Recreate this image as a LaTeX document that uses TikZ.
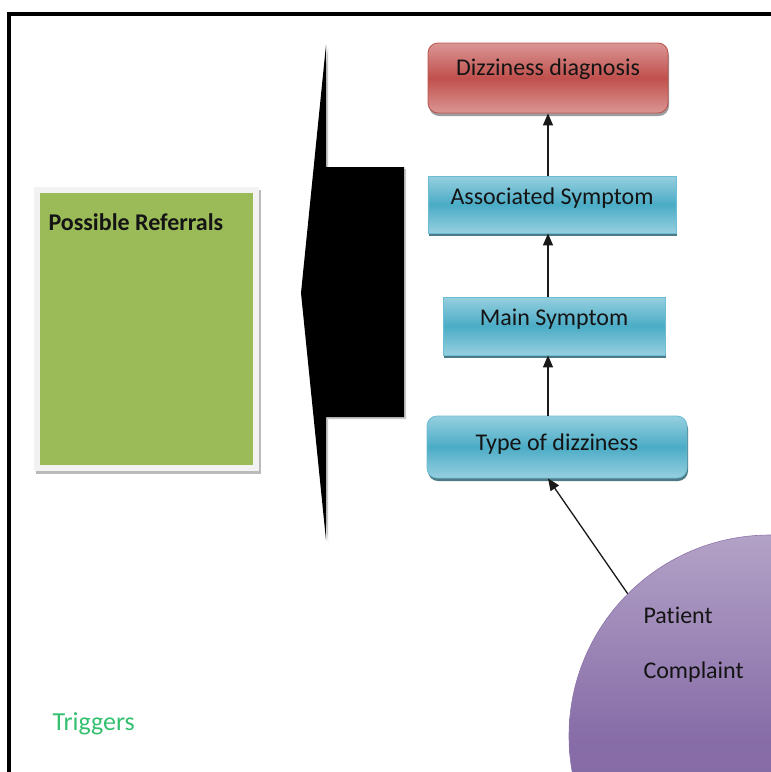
\documentclass[tikz,border=0pt]{standalone}
\usepackage{fontspec}
\setmainfont[Ligatures=NoCommon]{Carlito}
\usetikzlibrary{arrows.meta,shadows}

\definecolor{redmid}{HTML}{C0504D}
\definecolor{redlight}{HTML}{DA9694}
\definecolor{redline}{HTML}{B9534F}
\definecolor{bluemid}{HTML}{4BACC6}
\definecolor{bluelight}{HTML}{96CFDF}
\definecolor{blueline}{HTML}{6CBDD3}
\definecolor{blueshade}{HTML}{215968}
\definecolor{purplelight}{HTML}{B3A2C7}
\definecolor{purpledark}{HTML}{8064A2}
\definecolor{refgreen}{HTML}{9BBB59}
\definecolor{refframe}{HTML}{F2F2F2}
\definecolor{triggergreen}{RGB}{52,192,110}
\definecolor{ink}{HTML}{141414}

\tikzset{
  bigtext/.style={font=\fontsize{24}{28}\selectfont, text=ink},
  stepbase/.style={bigtext, inner xsep=0pt, inner ysep=0pt, line width=0.8pt},
  redbox/.style={stepbase, draw=redline, rounded corners=10pt,
    top color=redlight, bottom color=redlight, middle color=redmid,
    drop shadow={shadow xshift=1pt, shadow yshift=-3pt, opacity=0.55, fill=black!70}},
  bluebox/.style={stepbase, draw=blueline,
    top color=bluelight, bottom color=bluelight, middle color=bluemid,
    drop shadow={shadow xshift=1pt, shadow yshift=-3pt, opacity=0.8, fill=blueshade}},
  arr/.style={-{Triangle[length=12pt,width=10pt]}, line width=1.3pt, draw=black!90},
  complaintdisc/.style={circle, minimum size=402pt, inner sep=0pt,
    draw=purpledark!90, line width=0.6pt,
    top color=purplelight, bottom color=purpledark, middle color=purpledark!85!purplelight}
}

\begin{document}
\begin{tikzpicture}[x=1pt,y=-1pt]
\useasboundingbox (0,0) rectangle (771,772);

% outer frame and the complaint disc, both running past the page edge
\begin{scope}
  \clip (0,0) rectangle (771,772);
  \draw[line width=4pt] (9,14) rectangle (800,800);
  \node[complaintdisc] (pc) at (770,736) {};
\end{scope}
\node[bigtext, anchor=base west] (patient) at (640,623) {Patient};
\node[bigtext, anchor=base west] (complaint) at (640,678) {Complaint};

% diagnosis chain
\node[redbox, minimum width=240pt, minimum height=70pt,
      text height=17pt, text depth=23pt] (diag) at (548,78) {Dizziness diagnosis};
\node[bluebox, minimum width=248pt, minimum height=57pt,
      text height=17pt, text depth=18pt] (assoc) at (552,204.5) {Associated Symptom};
\node[bluebox, minimum width=222pt, minimum height=58pt,
      text height=17pt, text depth=18pt] (main) at (554,326) {Main Symptom};
\node[bluebox, rounded corners=10pt, minimum width=260pt, minimum height=62pt,
      text height=17pt, text depth=11pt] (type) at (557,447) {Type of dizziness};

\draw[arr] (pc.135) -- (type.south -| diag);
\draw[arr] (type.north -| diag) -- (main.south -| diag);
\draw[arr] (main.north -| diag) -- (assoc.south -| diag);
\draw[arr] (assoc.north -| diag) -- (diag.south);

% large block arrow pointing to the referrals panel
\fill[black!35, opacity=0.6, shift={(2,2)}]
  (326,45) -- (326,167) -- (404,167) -- (404,417) -- (326,417) -- (326,540) -- (301,293) -- cycle;
\fill[black]
  (326,45) -- (326,167) -- (404,167) -- (404,417) -- (326,417) -- (326,540) -- (301,293) -- cycle;

% referrals panel
\node[draw=none, fill=refframe, minimum width=225pt, minimum height=284pt, inner sep=0pt,
      drop shadow={shadow xshift=2pt, shadow yshift=-3pt, opacity=0.6, fill=black!45}]
      (refpanel) at (146.5,329) {};
\node[fill=refgreen, minimum width=213pt, minimum height=272pt, inner sep=0pt]
      (refinner) at (refpanel) {};
\node[bigtext, font=\fontsize{24}{28}\selectfont\bfseries, anchor=base west]
      (reflabel) at (45,230) {Possible Referrals};

% triggers label
\node[bigtext, font=\fontsize{26}{30}\selectfont, text=triggergreen, anchor=base west]
      (triggers) at (49,730) {Triggers};
\end{tikzpicture}
\end{document}
